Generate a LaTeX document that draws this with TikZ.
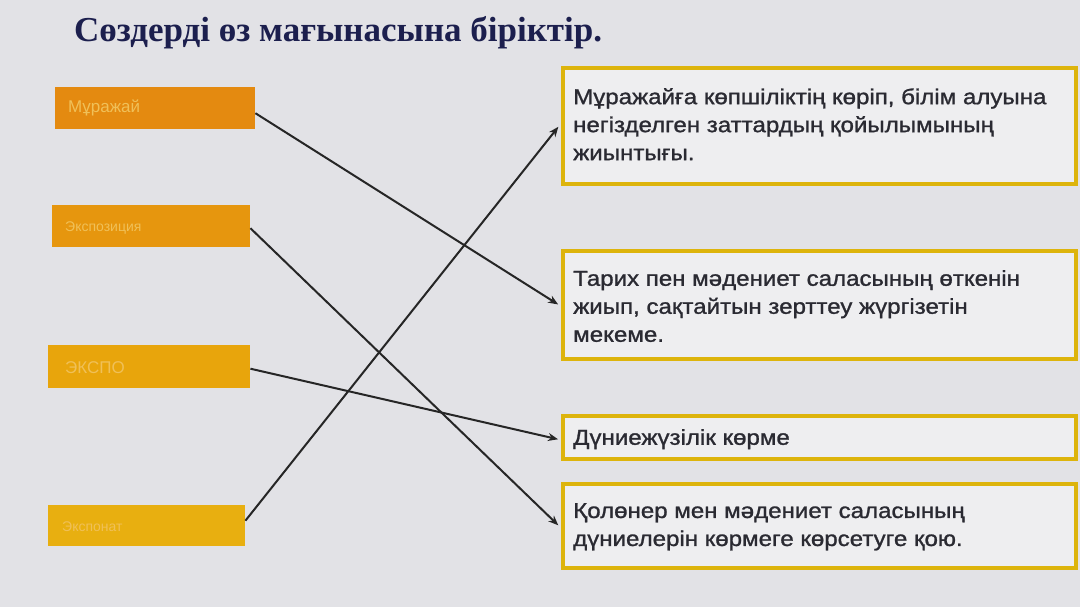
\documentclass[tikz,border=0pt]{standalone}
\usepackage{fontspec}
\setmainfont{Liberation Sans}
\newfontfamily\titlefont{Liberation Serif}
\newfontfamily\bodyfont[FakeStretch=1.12,FakeBold=1.2]{Liberation Sans}
\usetikzlibrary{arrows.meta}
\definecolor{bg}{HTML}{E2E2E6}
\definecolor{boxfill}{HTML}{EEEEF0}
\definecolor{gold}{HTML}{DDB40C}
\definecolor{titlec}{HTML}{1C1F4E}
\definecolor{txt}{HTML}{2A2A32}
\definecolor{lt}{HTML}{F0C058}
\definecolor{oA}{HTML}{E48A10}
\definecolor{oB}{HTML}{E6960E}
\definecolor{oC}{HTML}{E8A50C}
\definecolor{oD}{HTML}{E8AF10}
\tikzset{
  leftbox/.style={anchor=north west, inner sep=0pt, minimum height=42pt},
  ltext/.style={anchor=west, inner sep=0pt, text=lt},
  rightbox/.style={anchor=north west, draw=gold, line width=4pt, fill=boxfill,
    inner sep=0pt, minimum width=513pt},
  rtext/.style={anchor=north west, inner sep=0pt, text=txt, align=left,
    font=\bodyfont\fontsize{21.5}{28}\selectfont},
  link/.style={draw=black!85, line width=2pt, -{Stealth[length=10pt,width=8pt]}, shorten >=1pt}
}
\begin{document}
\begin{tikzpicture}[x=1pt,y=-1pt]
\fill[bg] (0,0) rectangle (1080,607);
\useasboundingbox (0,0) rectangle (1080,607);
% title
\node[anchor=west, inner sep=0pt, text=titlec, font=\titlefont\bfseries\fontsize{35}{38}\selectfont] (title) at (74,33) {Сөздерді өз мағынасына біріктір.};
% left boxes
\node[leftbox, fill=oA, minimum width=200pt] (l1) at (55,87) {};
\node[ltext, font=\fontsize{17}{20}\selectfont] (t1) at (68,108) {Мұражай};
\node[leftbox, fill=oB, minimum width=198pt] (l2) at (52,205) {};
\node[ltext, font=\fontsize{14}{18}\selectfont] (t2) at (65,228) {Экспозиция};
\node[leftbox, fill=oC, minimum width=202pt, minimum height=43pt] (l3) at (48,345) {};
\node[ltext, font=\fontsize{17}{20}\selectfont] (t3) at (65,368) {ЭКСПО};
\node[leftbox, fill=oD, minimum width=197pt, minimum height=41pt] (l4) at (48,505) {};
\node[ltext, font=\fontsize{14}{18}\selectfont] (t4) at (62,527) {Экспонат};
% right boxes
\node[rightbox, minimum height=116pt] (r1) at (561,66) {};
\node[rtext] (rt1) at (573,88) {Мұражайға көпшіліктің көріп, білім алуына\\негізделген заттардың қойылымының\\жиынтығы.};
\node[rightbox, minimum height=108pt] (r2) at (561,249) {};
\node[rtext] (rt2) at (573,270) {Тарих пен мәдениет саласының өткенін\\жиып, сақтайтын зерттеу жүргізетін\\мекеме.};
\node[rightbox, minimum height=43pt] (r3) at (561,414) {};
\node[rtext] (rt3) at (573,429) {Дүниежүзілік көрме};
\node[rightbox, minimum height=84pt] (r4) at (561,482) {};
\node[rtext] (rt4) at (573,503) {Қолөнер мен мәдениет саласының\\дүниелерін көрмеге көрсетуге қою.};
% connectors
\draw[link] ([yshift=-5pt]l1.east) -- ([xshift=-2pt]r2.west);
\draw[link] ([yshift=-2pt]l2.east) -- ([xshift=-2pt]r4.west);
\draw[link] ([yshift=-2pt]l3.east) -- ([xshift=-2pt,yshift=-2pt]r3.west);
\draw[link] ([yshift=5pt]l4.east) -- ([xshift=-2pt]r1.west);
\end{tikzpicture}
\end{document}
